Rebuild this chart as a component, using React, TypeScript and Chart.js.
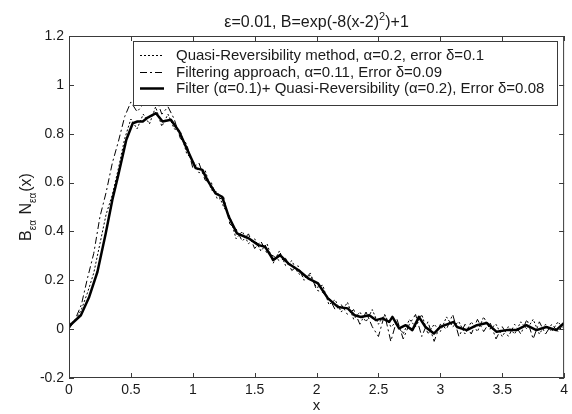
import React, { useEffect, useRef } from 'react';
import { Chart, registerables } from 'chart.js';
Chart.register(...registerables);

const titleMain = 'ε=0.01, B=exp(-8(x-2)';
const titleSup = '2';
const titleEnd = ')+1';
const xLabel = 'x';

const legendLabels = [
  'Quasi-Reversibility method, α=0.2, error δ=0.1',
  'Filtering approach, α=0.11, Error δ=0.09',
  'Filter (α=0.1)+ Quasi-Reversibility (α=0.2), Error δ=0.08',
];

const xTickValues = [0, 0.5, 1, 1.5, 2, 2.5, 3, 3.5, 4];
const xTickLabels = ['0', '0.5', '1', '1.5', '2', '2.5', '3', '3.5', '4'];
const yTickValues = [-0.2, 0, 0.2, 0.4, 0.6, 0.8, 1, 1.2];
const yTickLabels = ['-0.2', '0', '0.2', '0.4', '0.6', '0.8', '1', '1.2'];

const xGrid = [
  0, 0.05, 0.1, 0.15, 0.2, 0.25, 0.3, 0.35, 0.4, 0.45,
  0.5, 0.55, 0.6, 0.65, 0.7, 0.75, 0.8, 0.85, 0.9, 0.95,
  1, 1.05, 1.1, 1.15, 1.2, 1.25, 1.3, 1.35, 1.4, 1.45,
  1.5, 1.55, 1.6, 1.65, 1.7, 1.75, 1.8, 1.85, 1.9, 1.95,
  2, 2.05, 2.1, 2.15, 2.2, 2.25, 2.3, 2.35, 2.4, 2.45,
  2.5, 2.55, 2.6, 2.65, 2.7, 2.75, 2.8, 2.85, 2.9, 2.95,
  3, 3.05, 3.1, 3.15, 3.2, 3.25, 3.3, 3.35, 3.4, 3.45,
  3.5, 3.55, 3.6, 3.65, 3.7, 3.75, 3.8, 3.85, 3.9, 3.95, 4,
];

const quasiY = [
  0.02, 0.035, 0.08, 0.15, 0.23, 0.35, 0.47, 0.55, 0.66, 0.78,
  0.86, 0.82, 0.88, 0.84, 0.91, 0.83, 0.88, 0.82, 0.81, 0.72,
  0.69, 0.64, 0.65, 0.57, 0.56, 0.5, 0.46, 0.37, 0.4, 0.35,
  0.37, 0.32, 0.35, 0.27, 0.32, 0.26, 0.28, 0.23, 0.21, 0.22,
  0.17, 0.18, 0.1, 0.12, 0.07, 0.11, 0.04, 0.07, 0.03, 0.08,
  0.02, 0.06, 0.01, 0.03, -0.02, 0.04, 0.01, 0.06, -0.02, 0.02,
  -0.01, 0.05, 0.01, 0.03, -0.02, 0.03, -0.01, 0.05, 0.0, 0.02,
  -0.03, 0.01, -0.02, 0.03, 0.0, 0.04, -0.02, 0.02, -0.01, 0.03, 0.0,
];

const filterY = [
  0.0, 0.04, 0.1, 0.21, 0.31, 0.46, 0.56, 0.68, 0.77, 0.87,
  0.93, 0.89, 0.92, 0.94, 0.95, 0.88, 0.91, 0.86, 0.78, 0.76,
  0.66, 0.68, 0.61, 0.6, 0.53, 0.54, 0.43, 0.41, 0.36, 0.39,
  0.33, 0.36, 0.31, 0.3, 0.28, 0.29, 0.24, 0.26, 0.2, 0.23,
  0.16, 0.15, 0.13, 0.08, 0.1, 0.06, 0.08, 0.02, 0.07, 0.01,
  -0.03, 0.06, -0.05, 0.04, -0.04, 0.02, 0.06, -0.03, 0.03, -0.05,
  0.02, 0.0, 0.06, -0.03, 0.02, -0.02, 0.04, -0.01, 0.03, -0.04,
  0.01, -0.03, 0.02, -0.02, 0.04, -0.04, 0.03, -0.02, 0.02, -0.01, 0.02,
];

const combinedX = [
  0, 0.096, 0.163, 0.23, 0.297, 0.35, 0.395, 0.463, 0.515, 0.553,
  0.596, 0.636, 0.703, 0.756, 0.823, 0.89, 0.956, 1.024, 1.077, 1.117,
  1.184, 1.237, 1.291, 1.357, 1.451, 1.531, 1.585, 1.651, 1.705, 1.772,
  1.852, 1.932, 2.012, 2.092, 2.172, 2.252, 2.306, 2.359, 2.426, 2.479,
  2.533, 2.587, 2.613, 2.667, 2.72, 2.774, 2.827, 2.88, 2.948, 3.0,
  3.108, 3.134, 3.214, 3.295, 3.375, 3.455, 3.535, 3.615, 3.695, 3.776,
  3.856, 3.936, 4.0,
];
const combinedY = [
  0.012, 0.057, 0.132, 0.235, 0.393, 0.529, 0.624, 0.775, 0.843, 0.85,
  0.85, 0.866, 0.884, 0.85, 0.857, 0.809, 0.734, 0.659, 0.652, 0.611,
  0.556, 0.542, 0.46, 0.392, 0.372, 0.344, 0.337, 0.283, 0.303, 0.269,
  0.242, 0.208, 0.187, 0.126, 0.091, 0.085, 0.057, 0.05, 0.057, 0.037,
  0.044, 0.03, 0.05, 0.003, 0.016, -0.004, 0.05, 0.009, -0.018, 0.009,
  0.03, 0.009, -0.004, 0.016, 0.025, -0.011, -0.004, -0.004, 0.016, -0.004,
  0.009, -0.004, 0.025,
];

const FONT = 'Arial, "Liberation Sans", sans-serif';
const INK = '#1a1a1a';
const AXIS = '#3a3a3a';

const dashStyles = [[2, 2], [7, 3, 2, 3], []];
const widths = [1, 1, 2.5];

const decor = {
  id: 'decor',
  afterDraw(chart: any) {
    const { ctx, chartArea: a, scales } = chart;
    ctx.save();
    // border
    ctx.strokeStyle = AXIS;
    ctx.lineWidth = 1;
    ctx.setLineDash([]);
    ctx.strokeRect(a.left + 0.5, a.top + 0.5, a.right - a.left - 1, a.bottom - a.top - 1);
    // inward ticks
    ctx.beginPath();
    xTickValues.forEach((v) => {
      const px = Math.round(scales.x.getPixelForValue(v)) + 0.5;
      ctx.moveTo(px, a.bottom); ctx.lineTo(px, a.bottom - 5);
      ctx.moveTo(px, a.top); ctx.lineTo(px, a.top + 5);
    });
    yTickValues.forEach((v) => {
      const py = Math.round(scales.y.getPixelForValue(v)) + 0.5;
      ctx.moveTo(a.left, py); ctx.lineTo(a.left + 5, py);
      ctx.moveTo(a.right, py); ctx.lineTo(a.right - 5, py);
    });
    ctx.stroke();

    // title
    ctx.fillStyle = INK;
    ctx.textBaseline = 'alphabetic';
    ctx.textAlign = 'left';
    ctx.font = `16px ${FONT}`;
    const w1 = ctx.measureText(titleMain).width;
    const w3 = ctx.measureText(titleEnd).width;
    ctx.font = `11px ${FONT}`;
    const w2 = ctx.measureText(titleSup).width;
    const total = w1 + w2 + w3;
    let tx = (a.left + a.right) / 2 - total / 2;
    const ty = 27;
    ctx.font = `16px ${FONT}`;
    ctx.fillText(titleMain, tx, ty);
    ctx.font = `11px ${FONT}`;
    ctx.fillText(titleSup, tx + w1, ty - 7);
    ctx.font = `16px ${FONT}`;
    ctx.fillText(titleEnd, tx + w1 + w2, ty);

    // x label
    ctx.textAlign = 'center';
    ctx.textBaseline = 'middle';
    ctx.font = `15px ${FONT}`;
    ctx.fillText(xLabel, (a.left + a.right) / 2, 406);

    // y label (rotated)
    const parts: [string, number, number][] = [
      ['B', 16, 0], ['εα', 10, 5], [' N', 16, 0], ['εα', 10, 5], ['(x)', 16, 0],
    ];
    let lw = 0;
    parts.forEach(([t, s]) => { ctx.font = `${s}px ${FONT}`; lw += ctx.measureText(t).width + (s === 10 ? 1 : 0); });
    ctx.save();
    ctx.translate(31, (a.top + a.bottom) / 2 + lw / 2);
    ctx.rotate(-Math.PI / 2);
    ctx.textAlign = 'left';
    ctx.textBaseline = 'alphabetic';
    let lx = 0;
    parts.forEach(([t, s, dy]) => {
      ctx.font = `${s}px ${FONT}`;
      ctx.fillText(t, lx, dy);
      lx += ctx.measureText(t).width + (s === 10 ? 1 : 0);
    });
    ctx.restore();

    // legend
    const bx = 133, by = 41, bw = 424, bh = 64;
    ctx.fillStyle = '#ffffff';
    ctx.fillRect(bx, by, bw, bh);
    ctx.strokeStyle = AXIS;
    ctx.lineWidth = 1;
    ctx.strokeRect(bx + 0.5, by + 0.5, bw, bh);
    const rows = [55, 72, 88];
    chart.data.datasets.forEach((ds: any, i: number) => {
      const ry = rows[i];
      ctx.strokeStyle = '#000';
      ctx.lineWidth = widths[i];
      ctx.setLineDash(dashStyles[i]);
      ctx.beginPath();
      ctx.moveTo(140, ry + 0.5);
      ctx.lineTo(164, ry + 0.5);
      ctx.stroke();
      ctx.setLineDash([]);
      ctx.fillStyle = INK;
      ctx.font = `15px ${FONT}`;
      ctx.textAlign = 'left';
      ctx.textBaseline = 'middle';
      ctx.fillText(ds.label, 176, ry + 1);
    });
    ctx.restore();
  },
};

export default function App() {
  const ref = useRef<HTMLCanvasElement | null>(null);
  useEffect(() => {
    document.body.style.margin = '0';
    const mk = (xs: number[], ys: number[]) => xs.map((x, i) => ({ x, y: ys[i] }));
    const chart = new Chart(ref.current as HTMLCanvasElement, {
      type: 'line',
      data: {
        datasets: [
          { label: legendLabels[0], data: mk(xGrid, quasiY), borderColor: '#000', borderWidth: widths[0], borderDash: dashStyles[0], pointRadius: 0, tension: 0, fill: false },
          { label: legendLabels[1], data: mk(xGrid, filterY), borderColor: '#000', borderWidth: widths[1], borderDash: dashStyles[1], pointRadius: 0, tension: 0, fill: false },
          { label: legendLabels[2], data: mk(combinedX, combinedY), borderColor: '#000', borderWidth: widths[2], borderDash: dashStyles[2], pointRadius: 0, tension: 0, fill: false, borderJoinStyle: 'round' },
        ],
      },
      options: {
        animation: false,
        responsive: true,
        maintainAspectRatio: false,
        layout: { padding: { left: 0, top: 36, right: 4, bottom: 0 } },
        plugins: { legend: { display: false }, title: { display: false }, tooltip: { enabled: false } },
        scales: {
          x: {
            type: 'linear', min: 0, max: 4,
            grid: { display: false, drawTicks: false },
            border: { display: false },
            afterBuildTicks: (s: any) => { s.ticks = xTickValues.map((v) => ({ value: v })); },
            afterFit: (s: any) => { s.height = 36; },
            ticks: {
              padding: 4, maxRotation: 0, autoSkip: false, color: INK,
              font: { family: FONT, size: 14 },
              callback: (v: any) => xTickLabels[xTickValues.indexOf(Number(v))] ?? '',
            },
          },
          y: {
            type: 'linear', min: -0.2, max: 1.2,
            grid: { display: false, drawTicks: false },
            border: { display: false },
            afterBuildTicks: (s: any) => { s.ticks = yTickValues.map((v) => ({ value: v })); },
            afterFit: (s: any) => { s.width = 69; },
            ticks: {
              padding: 5, autoSkip: false, color: INK,
              font: { family: FONT, size: 14 },
              callback: (v: any) => {
                const i = yTickValues.findIndex((t) => Math.abs(t - Number(v)) < 1e-9);
                return i >= 0 ? yTickLabels[i] : '';
              },
            },
          },
        },
      },
      plugins: [decor],
    } as any);
    return () => chart.destroy();
  }, []);
  return (
    <div style={{ position: 'fixed', left: 0, top: 0, width: 572, height: 414, background: '#fff' }}>
      <canvas ref={ref} />
    </div>
  );
}
